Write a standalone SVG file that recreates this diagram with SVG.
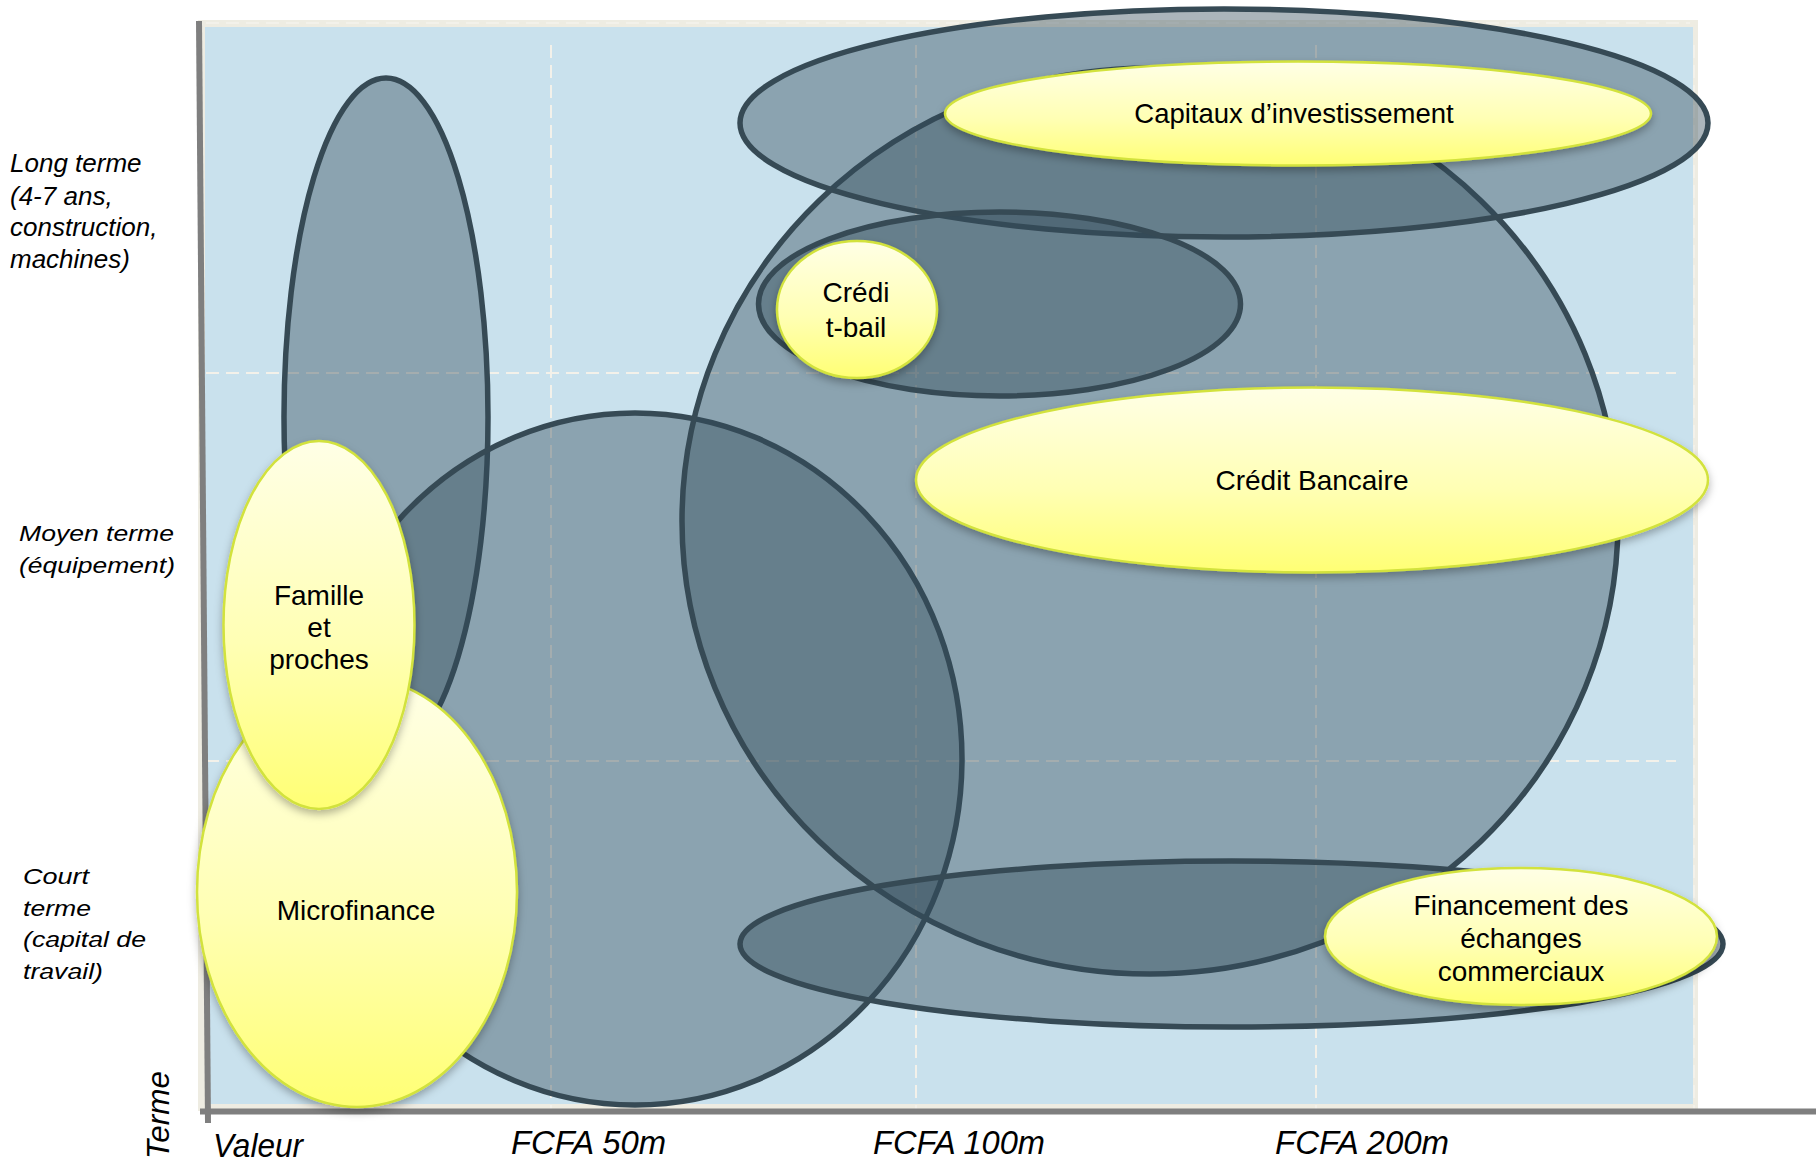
<svg xmlns="http://www.w3.org/2000/svg" width="1816" height="1167" viewBox="0 0 1816 1167">
<style>
.grid{stroke:#F3F1EA;stroke-width:2;stroke-dasharray:13 7;fill:none}
.axis{stroke:#7F7F7F;stroke-width:6;fill:none}
.dark{fill:#344C5A;fill-opacity:0.41;stroke:#364A55;stroke-width:5.5}
.yel{fill:url(#yg);stroke:#D2E23C;stroke-width:2.5;filter:url(#sh)}
.lbl{font-family:"Liberation Sans",Arial,sans-serif;font-size:28px;fill:#000;text-anchor:middle}
.side{font-family:"Liberation Sans",Arial,sans-serif;font-style:italic;fill:#000}
</style>
<defs>
<linearGradient id="yg" x1="0" y1="0" x2="0" y2="1">
<stop offset="0" stop-color="#FFFFE6"/>
<stop offset="0.55" stop-color="#FFFFB4"/>
<stop offset="1" stop-color="#FFFF74"/>
</linearGradient>
<filter id="sh" x="-10%" y="-10%" width="120%" height="130%">
<feDropShadow dx="0" dy="4" stdDeviation="4" flood-color="#000" flood-opacity="0.3"/>
</filter>
</defs>
<rect width="1816" height="1167" fill="#FFFFFF"/>
<g id="plot">
<rect x="198" y="20" width="1500" height="1091" fill="#EEECE2"/>
<rect x="205" y="27" width="1488" height="1077" fill="#C9E1ED"/>
<line class="grid" x1="206" y1="23" x2="1690" y2="23"/>
<line class="grid" x1="206" y1="373" x2="1676" y2="373"/>
<line class="grid" x1="206" y1="761" x2="1676" y2="761"/>
<line class="grid" x1="551" y1="45" x2="551" y2="1114"/>
<line class="grid" x1="916" y1="45" x2="916" y2="1114"/>
<line class="grid" x1="1316" y1="45" x2="1316" y2="1114"/>
<line class="grid" x1="1694" y1="45" x2="1694" y2="1114"/>
<line class="axis" x1="200" y1="1111.5" x2="1816" y2="1111.5"/>
<line class="axis" x1="199" y1="21" x2="208" y2="1123"/>
</g>
<g id="connectors"/>
<g id="zone-famille-haute"><ellipse class="dark" cx="386" cy="417" rx="102" ry="339"/></g>
<g id="zone-microfinance"><ellipse class="dark" cx="635" cy="759" rx="327" ry="346"/></g>
<g id="zone-bancaire"><ellipse class="dark" cx="1150" cy="521" rx="468" ry="453"/></g>
<g id="zone-capitaux"><ellipse class="dark" cx="1224" cy="123" rx="484" ry="114"/></g>
<g id="zone-credit-bail"><ellipse class="dark" cx="999.5" cy="304" rx="241" ry="92"/></g>
<g id="zone-echanges"><ellipse class="dark" cx="1231.5" cy="944" rx="491.5" ry="83"/></g>
<g id="capitaux">
<ellipse class="yel" cx="1298" cy="113.5" rx="353" ry="52"/>
<text class="lbl" x="1294" y="123" style="font-size:27.5px">Capitaux d’investissement</text>
</g>
<g id="credit-bail">
<ellipse class="yel" cx="857" cy="309.5" rx="80" ry="68.5"/>
<text class="lbl" x="856" y="302">Crédi</text>
<text class="lbl" x="856" y="337">t-bail</text>
</g>
<g id="credit-bancaire">
<ellipse class="yel" cx="1312" cy="480" rx="396" ry="92.5"/>
<text class="lbl" x="1312" y="490">Crédit Bancaire</text>
</g>
<g id="microfinance">
<ellipse class="yel" cx="357" cy="892" rx="160" ry="215"/>
<text class="lbl" x="356" y="920">Microfinance</text>
</g>
<g id="famille">
<ellipse class="yel" cx="319" cy="625" rx="95.5" ry="184"/>
<text class="lbl" x="319" y="605">Famille</text>
<text class="lbl" x="319" y="637">et</text>
<text class="lbl" x="319" y="669">proches</text>
</g>
<g id="financement">
<ellipse class="yel" cx="1521" cy="936.5" rx="196" ry="68.5"/>
<text class="lbl" x="1521" y="915">Financement des</text>
<text class="lbl" x="1521" y="948">échanges</text>
<text class="lbl" x="1521" y="981">commerciaux</text>
</g>
<g id="axis-labels">
<text class="side" x="10" y="172" style="font-size:26px">Long terme</text>
<text class="side" x="10" y="205" style="font-size:26px">(4-7 ans,</text>
<text class="side" x="10" y="236" style="font-size:26px">construction,</text>
<text class="side" x="10" y="268" style="font-size:26px">machines)</text>
<text class="side" x="19" y="541" style="font-size:21.5px" textLength="155" lengthAdjust="spacingAndGlyphs">Moyen terme</text>
<text class="side" x="19" y="573" style="font-size:21.5px" textLength="156" lengthAdjust="spacingAndGlyphs">(équipement)</text>
<text class="side" x="23" y="884" style="font-size:21.5px" textLength="66" lengthAdjust="spacingAndGlyphs">Court</text>
<text class="side" x="23" y="916" style="font-size:21.5px" textLength="68" lengthAdjust="spacingAndGlyphs">terme</text>
<text class="side" x="23" y="947" style="font-size:21.5px" textLength="123" lengthAdjust="spacingAndGlyphs">(capital de</text>
<text class="side" x="23" y="979" style="font-size:21.5px" textLength="80" lengthAdjust="spacingAndGlyphs">travail)</text>
<text class="side" x="213" y="1157" style="font-size:33px" textLength="90" lengthAdjust="spacingAndGlyphs">Valeur</text>
<text class="side" x="511" y="1154" style="font-size:33px" textLength="155" lengthAdjust="spacingAndGlyphs">FCFA 50m</text>
<text class="side" x="873" y="1154" style="font-size:33px" textLength="172" lengthAdjust="spacingAndGlyphs">FCFA 100m</text>
<text class="side" x="1275" y="1154" style="font-size:33px" textLength="174" lengthAdjust="spacingAndGlyphs">FCFA 200m</text>
<text class="side" transform="translate(169,1159) rotate(-90)" x="0" y="0" style="font-size:31px" textLength="88" lengthAdjust="spacingAndGlyphs">Terme</text>
</g>
</svg>
